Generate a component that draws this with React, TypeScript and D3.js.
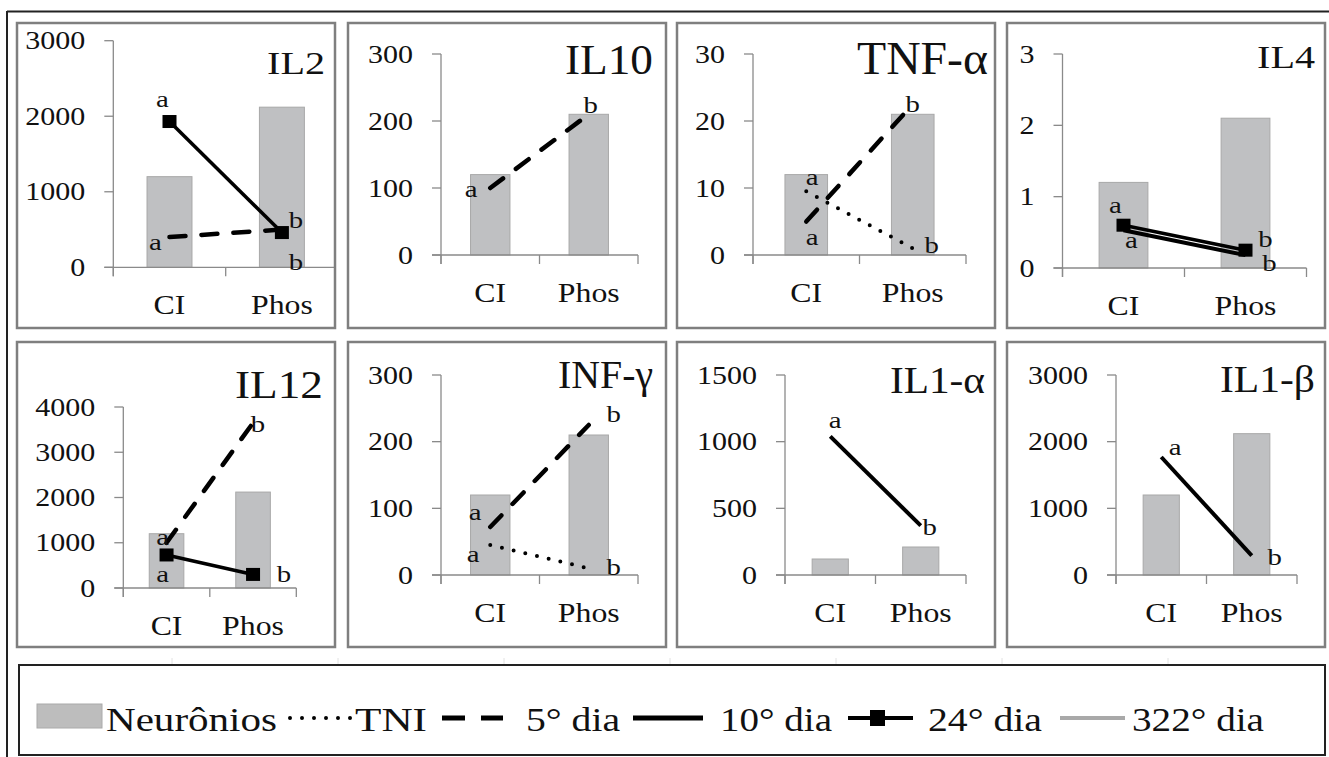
import React from 'react'
import * as d3 from 'd3'

// categories and cytokine panels
const categories = ['CI', 'Phos']
const cytokines = ['IL2', 'IL10', 'TNF-α', 'IL4', 'IL12', 'INF-γ', 'IL1-α', 'IL1-β']
const yMax = [3000, 300, 30, 3, 4000, 300, 1500, 3000]
const yStep = [1000, 100, 10, 1, 1000, 100, 500, 1000]

// series values per panel: [CI, Phos], null where the series is not drawn
const neuronios = [[1200, 2120], [120, 210], [12, 21], [1.2, 2.1], [1200, 2120], [120, 210], [120, 210], [1200, 2120]]
const tni = [null, null, [9.5, 1], null, null, [45, 10], null, null]
const dia5 = [[400, 500], [100, 210], [5, 22.5], null, [1000, 3650], [72, 225], null, null]
const dia10 = [null, null, null, [0.53, 0.18], null, null, [1040, 370], [1770, 290]]
const dia24 = [[1930, 460], null, null, [0.6, 0.25], [730, 300], null, null, null]

// significance letters: [series, category index, letter, dx, dy]
const letters: [string, number, string, number, number][][] = [
  [['d24', 0, 'a', -7, -15], ['d5', 0, 'a', -14, 13], ['d24', 1, 'b', 14, -5], ['d5', 1, 'b', 14, 40]],
  [['d5', 0, 'a', -19, 9], ['d5', 1, 'b', 2, -1]],
  [['tni', 0, 'a', 6, -6], ['d5', 0, 'a', 6, 23], ['d5', 1, 'b', 0, 8], ['tni', 1, 'b', 19, 5]],
  [['d24', 0, 'a', -8, -12], ['d10', 0, 'a', 8, 18], ['d24', 1, 'b', 20, -3], ['d10', 1, 'b', 24, 16]],
  [['d5', 0, 'a', -4, 2], ['d24', 0, 'a', -4, 27], ['d5', 1, 'b', 5, 9], ['d24', 1, 'b', 31, 8]],
  [['d5', 0, 'a', -15, -7], ['tni', 0, 'a', -17, 17], ['d5', 1, 'b', 25, -3], ['tni', 1, 'b', 25, 7]],
  [['d10', 0, 'a', 5, -8], ['d10', 1, 'b', 9, 9]],
  [['d10', 0, 'a', 14, -2], ['d10', 1, 'b', 23, 9]],
]

const FONT = 'Liberation Serif'
const SX = 1.2
const BOX_W = 318
const BOX_H = 305

// panel layout (box, plot area, title)
const layout = [
  { bx: 17, by: 23, axisX: 113.3, catW: 112.4, yTop: 40.7, y0: 267.3, tr: 325, tb: 74, ts: 32, tw: 58 },
  { bx: 348, by: 23, axisX: 441, catW: 98.5, yTop: 54, y0: 255, tr: 653, tb: 74, ts: 43, tw: 88 },
  { bx: 677, by: 23, axisX: 753, catW: 106.5, yTop: 54, y0: 255, tr: 988, tb: 74, ts: 46, tw: 131 },
  { bx: 1007, by: 23, axisX: 1062.5, catW: 122, yTop: 54, y0: 268, tr: 1315, tb: 68, ts: 32, tw: 58 },
  { bx: 17, by: 342, axisX: 123.3, catW: 86.5, yTop: 407, y0: 588, tr: 323, tb: 398, ts: 39, tw: 88 },
  { bx: 348, by: 342, axisX: 441, catW: 98.5, yTop: 375, y0: 575, tr: 653, tb: 388, ts: 39, tw: 95 },
  { bx: 677, by: 342, axisX: 785, catW: 90.5, yTop: 375, y0: 575, tr: 985, tb: 393, ts: 38, tw: 95 },
  { bx: 1007, by: 342, axisX: 1116, catW: 90.5, yTop: 375, y0: 575, tr: 1315, tb: 392, ts: 38, tw: 95 },
]

const styles: Record<string, any> = {
  tni: { stroke: '#000', width: 4, dash: '0 12', cap: 'round' },
  d5: { stroke: '#000', width: 4.5, dash: '16 16', cap: 'round' },
  d10: { stroke: '#000', width: 4, dash: null, cap: 'butt' },
  d24: { stroke: '#000', width: 3.5, dash: null, cap: 'butt' },
}

const T = ({ x, y, size, anchor = 'middle', children }: any) => (
  <text
    transform={`translate(${x},${y}) scale(${SX},1)`}
    textAnchor={anchor}
    fontFamily={FONT}
    fontSize={size}
    fill='#111'
  >
    {children}
  </text>
)

const Panel = ({ i }: { i: number }) => {
  const L = layout[i]
  const xScale = d3
    .scaleBand()
    .domain(categories)
    .range([L.axisX, L.axisX + 2 * L.catW])
    .paddingInner(0.6)
    .paddingOuter(0.3)
  const yScale = d3.scaleLinear().domain([0, yMax[i]]).range([L.y0, L.yTop])
  const ticks = d3.range(0, yMax[i] + yStep[i] / 2, yStep[i])
  const cx = (j: number) => (xScale(categories[j]) as number) + xScale.bandwidth() / 2
  const lineGen = d3
    .line<number>()
    .x((d, j) => cx(j))
    .y((d) => yScale(d))
  const series: Record<string, number[] | null> = { tni: tni[i], d5: dia5[i], d10: dia10[i], d24: dia24[i] }
  const clipId = `clip-${i}`
  const axisColor = '#8a8a8a'

  return (
    <g>
      <defs>
        <clipPath id={clipId}>
          <rect x={L.bx} y={L.by} width={BOX_W} height={BOX_H} />
        </clipPath>
      </defs>
      <rect x={L.bx} y={L.by} width={BOX_W} height={BOX_H} fill='#fff' />
      <g clipPath={`url(#${clipId})`}>
        {/* bars */}
        {categories.map((c, j) => (
          <rect
            key={c}
            x={xScale(c)}
            y={yScale(neuronios[i][j])}
            width={xScale.bandwidth()}
            height={L.y0 - yScale(neuronios[i][j])}
            fill='#bfc0c2'
            stroke='#a8a8a8'
            strokeWidth={1}
          />
        ))}
        {/* axes */}
        <line x1={L.axisX} x2={L.axisX} y1={L.yTop} y2={L.y0 + 9} stroke={axisColor} strokeWidth={1.3} />
        <line x1={L.axisX - 9} x2={L.axisX + 2 * L.catW} y1={L.y0} y2={L.y0} stroke={axisColor} strokeWidth={1.3} />
        {ticks.map((t) => (
          <line key={t} x1={L.axisX - 9} x2={L.axisX} y1={yScale(t)} y2={yScale(t)} stroke={axisColor} strokeWidth={1.3} />
        ))}
        {[0, 1, 2].map((k) => (
          <line
            key={k}
            x1={L.axisX + k * L.catW}
            x2={L.axisX + k * L.catW}
            y1={L.y0}
            y2={L.y0 + 9}
            stroke={axisColor}
            strokeWidth={1.3}
          />
        ))}
        {/* lines */}
        {['tni', 'd5', 'd10', 'd24'].map((k) =>
          series[k] ? (
            <path
              key={k}
              d={lineGen(series[k] as number[]) || ''}
              fill='none'
              stroke={styles[k].stroke}
              strokeWidth={styles[k].width}
              strokeDasharray={styles[k].dash || undefined}
              strokeLinecap={styles[k].cap}
            />
          ) : null
        )}
        {series.d24 &&
          (series.d24 as number[]).map((v, j) => (
            <rect key={j} x={cx(j) - 7} y={yScale(v) - 6.5} width={14} height={13} fill='#000' />
          ))}
        {/* letters */}
        {letters[i].map(([k, j, t, dx, dy], n) => (
          <T key={n} x={cx(j) + dx} y={yScale((series[k] as number[])[j]) + dy} size={24}>
            {t}
          </T>
        ))}
      </g>
      {/* tick labels */}
      {ticks.map((t) => (
        <T key={t} x={L.axisX - 28} y={yScale(t) + 8.5} size={25} anchor='end'>
          {t}
        </T>
      ))}
      {categories.map((c, j) => (
        <T key={c} x={cx(j)} y={L.y0 + 47} size={26.5}>
          {c}
        </T>
      ))}
      <text
        x={L.tr - L.tw}
        y={L.tb}
        fontFamily={FONT}
        fontSize={L.ts}
        textLength={L.tw}
        lengthAdjust='spacingAndGlyphs'
        fill='#111'
      >
        {cytokines[i]}
      </text>
      <rect x={L.bx} y={L.by} width={BOX_W} height={BOX_H} fill='none' stroke='#7f7f7f' strokeWidth={2.5} />
    </g>
  )
}

const legendLabels = ['Neurônios', 'TNI', '5° dia', '10° dia', '24° dia', '322° dia']
const legendText = [
  { x: 106, w: 171 },
  { x: 355, w: 72 },
  { x: 526, w: 94 },
  { x: 720, w: 112 },
  { x: 928, w: 114 },
  { x: 1132, w: 132 },
]

const Legend = () => {
  const ly = 718
  return (
    <g>
      {d3.range(172, 1200, 166).map((x) => (
        <line key={x} x1={x} x2={x} y1={658} y2={670} stroke='#e2e2e2' strokeWidth={1} />
      ))}
      <rect x={19} y={665} width={1306} height={90} fill='#fff' stroke='#222' strokeWidth={2} />
      <rect x={37} y={704} width={65} height={24} fill='#bdbdbd' stroke='#aaa' strokeWidth={1} />
      <line x1={290} x2={351} y1={ly} y2={ly} stroke='#000' strokeWidth={4} strokeDasharray='0 12' strokeLinecap='round' />
      <line x1={442} x2={503} y1={ly} y2={ly} stroke='#000' strokeWidth={5} strokeDasharray='23 16' />
      <line x1={633} x2={703} y1={ly} y2={ly} stroke='#000' strokeWidth={5} />
      <line x1={848} x2={913} y1={ly} y2={ly} stroke='#000' strokeWidth={4} />
      <rect x={870} y={710} width={15} height={16} fill='#000' />
      <line x1={1060} x2={1125} y1={ly} y2={ly} stroke='#a9a9a9' strokeWidth={4} />
      {legendLabels.map((t, k) => (
        <text
          key={t}
          x={legendText[k].x}
          y={731}
          fontFamily={FONT}
          fontSize={34}
          textLength={legendText[k].w}
          lengthAdjust='spacingAndGlyphs'
          fill='#111'
        >
          {t}
        </text>
      ))}
    </g>
  )
}

const App = () => {
  return (
    <svg
      width={1329}
      height={757}
      style={{ position: 'fixed', left: 0, top: 0, background: '#fff' }}
    >
      <rect x={0} y={0} width={1329} height={757} fill='#fff' />
      <line x1={7} x2={1329} y1={11.5} y2={11.5} stroke='#222' strokeWidth={2} />
      <line x1={7} x2={7} y1={11} y2={757} stroke='#222' strokeWidth={2} />
      {cytokines.map((c, i) => (
        <Panel key={c} i={i} />
      ))}
      <Legend />
    </svg>
  )
}

export default App
